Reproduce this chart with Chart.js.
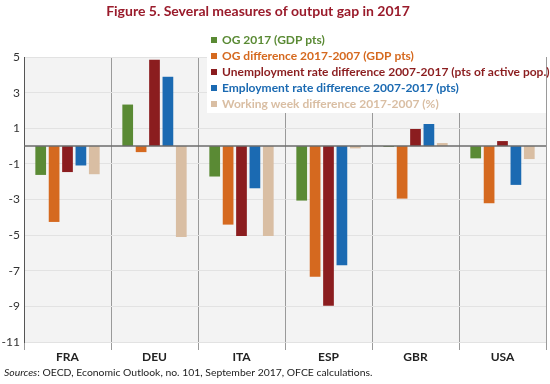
<!DOCTYPE html>
<html lang="en">
<head>
<meta charset="UTF-8">
<title>Several measures of output gap in 2017</title>
<script src="https://cdn.jsdelivr.net/npm/chart.js"></script>
<style>
  body { margin: 0; padding: 0; background: #fff; font-family: Lato, sans-serif; }
  .wrap { width: 550px; height: 384px; position: relative; }
</style>
</head>
<body>
<div class="wrap"><canvas id="gapChart" width="550" height="384"></canvas></div>
<script>
const countries = ["FRA", "DEU", "ITA", "ESP", "GBR", "USA"];
const seriesNames = [
  "OG 2017 (GDP pts)",
  "OG difference 2017-2007 (GDP pts)",
  "Unemployment rate difference 2007-2017 (pts of active pop.)",
  "Employment rate difference 2007-2017 (pts)",
  "Working week difference 2017-2007 (%)"
];
const og2017       = [-1.62,  2.33, -1.71, -3.06, -0.05, -0.69];
const ogDiff       = [-4.26, -0.34, -4.41, -7.34, -2.95, -3.21];
const unempDiff    = [-1.46,  4.85, -5.05, -8.96,  0.96,  0.28];
const emplDiff     = [-1.09,  3.89, -2.37, -6.69,  1.24, -2.18];
const weekDiff     = [-1.58, -5.10, -5.05, -0.13,  0.17, -0.73];
const yTicks = [5, 3, 1, -1, -3, -5, -7, -9, -11];

const colors = ["#5a8a34", "#d5691f", "#8b1d1f", "#1b6ab2", "#d9bea3"];
const allValues = [og2017, ogDiff, unempDiff, emplDiff, weekDiff];

const datasets = seriesNames.map((name, i) => ({
  label: name,
  data: allValues[i],
  backgroundColor: colors[i],
  borderWidth: 0,
  categoryPercentage: 0.77,
  barPercentage: 0.8
}));

const decorations = {
  id: 'decorations',
  beforeDraw(chart) {
    const { ctx, chartArea: a } = chart;
    ctx.save();
    ctx.fillStyle = '#f3f3f3';
    ctx.fillRect(a.left, a.top, a.right - a.left, a.bottom - a.top);
    ctx.restore();
  },
  afterDatasetsDraw(chart) {
    const { ctx, chartArea: a } = chart;
    const y0 = chart.scales.y.getPixelForValue(0);
    ctx.save();
    ctx.strokeStyle = '#6b6b6b';
    ctx.lineWidth = 1.5;
    ctx.beginPath();
    ctx.moveTo(a.left, y0);
    ctx.lineTo(a.right, y0);
    ctx.stroke();

    // legend box
    ctx.fillStyle = '#ffffff';
    ctx.fillRect(207, a.top, a.right - 207, 113 - a.top);
    ctx.font = 'bold 12px Lato';
    ctx.textBaseline = 'middle';
    chart.data.datasets.forEach((ds, i) => {
      const y = 40 + i * 16;
      ctx.fillStyle = ds.backgroundColor;
      ctx.fillRect(211, y - 3, 6, 6);
      ctx.fillText(ds.label, 222, y);
    });

    // title
    ctx.fillStyle = '#9a1b2b';
    ctx.font = 'bold 14px Lato';
    ctx.textAlign = 'center';
    ctx.fillText('Figure 5. Several measures of output gap in 2017', 258, 11);

    // source
    ctx.textAlign = 'left';
    ctx.fillStyle = '#222';
    ctx.font = 'italic 10.4px Lato';
    ctx.fillText('Sources', 4, 373);
    const w = ctx.measureText('Sources').width;
    ctx.font = '10.4px Lato';
    ctx.fillText(': OECD, Economic Outlook, no. 101, September 2017, OFCE calculations.', 4 + w, 373);
    ctx.restore();
  }
};

new Chart(document.getElementById('gapChart'), {
  type: 'bar',
  data: { labels: countries, datasets: datasets },
  options: {
    responsive: false,
    animation: false,
    layout: { padding: { left: 0, right: 4, top: 57, bottom: 20 } },
    plugins: {
      legend: { display: false },
      tooltip: { enabled: false },
      title: { display: false }
    },
    scales: {
      x: {
        offset: true,
        grid: { offset: true, color: '#9a9a9a', lineWidth: 1, tickLength: 8, drawOnChartArea: true },
        border: { display: false },
        ticks: { color: '#222', font: { family: 'Lato', size: 12, weight: 'bold' }, padding: 0 },
        afterFit(scale) { scale.height = 22; }
      },
      y: {
        min: -11,
        max: 5,
        afterBuildTicks(scale) { scale.ticks = yTicks.map(v => ({ value: v })); },
        grid: { color: '#e2e2e2', drawTicks: false },
        border: { display: true, color: '#555', width: 1 },
        ticks: { color: '#333', font: { family: 'Lato', size: 12 }, padding: 4 },
        afterFit(scale) { scale.width = 24; }
      }
    }
  },
  plugins: [decorations]
});
</script>
</body>
</html>
